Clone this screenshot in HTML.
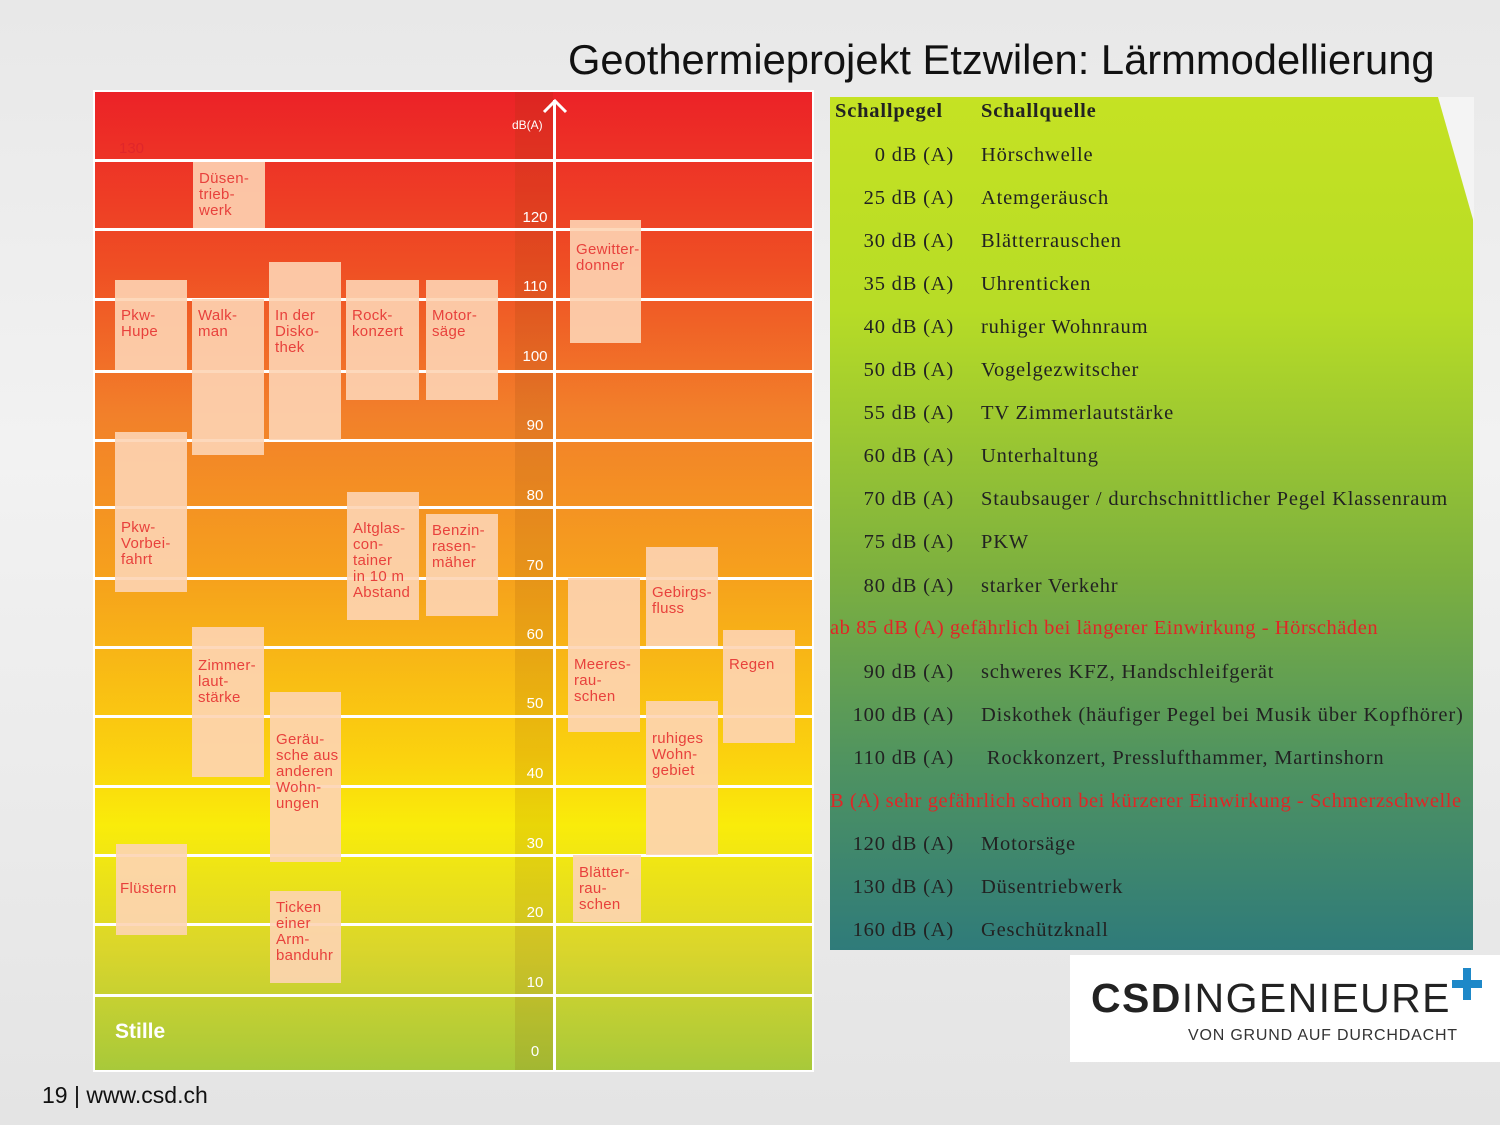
<!DOCTYPE html>
<html><head><meta charset="utf-8"><style>
body{margin:0;width:1500px;height:1125px;position:relative;overflow:hidden;background:linear-gradient(180deg,#e8e8e8 0%,#f2f2f2 40%,#e4e4e4 100%);font-family:"Liberation Sans",sans-serif}
.abs{position:absolute}
#chart{left:95px;top:92px;width:717px;height:978px;background:linear-gradient(180deg,#ec2227 0%,#ef4f24 18%,#f2802a 33%,#f6a21c 50%,#fbd20e 68%,#f9ec0a 75%,#d9d52c 88%,#a8c93a 100%);outline:2px solid #fff}
.hl{position:absolute;left:0;width:717px;height:3px;background:#fff}
#axis{left:420px;top:0;width:38px;height:978px;background:rgba(120,60,0,0.12)}
.tk{position:absolute;left:425px;width:30px;text-align:center;color:#fff;font-size:15px}
.bx{position:absolute;background:rgba(253,212,180,0.9);color:#e8413c;font-size:15px;line-height:16px;padding:9px 0 0 6px;box-sizing:border-box;letter-spacing:0.3px}
#tab{left:830px;top:97px;width:643px;height:853px;background:linear-gradient(180deg,#c5e223 0%,#b7dc26 25%,#7eb13e 55%,#4f9360 78%,#2f7b7a 100%);font-family:"Liberation Serif",serif;font-size:20.5px;letter-spacing:0.8px;color:#222}
.r{position:absolute;left:0;width:643px;height:24px}
.r .a{position:absolute;right:519px;white-space:nowrap}
.r .b{position:absolute;left:151px;white-space:nowrap}
.red{position:absolute;left:0;color:#e02626;white-space:nowrap;letter-spacing:0.55px}
</style></head><body>
<div class="abs" style="left:568px;top:36px;font-size:41.7px;color:#111">Geothermieprojekt Etzwilen: Lärmmodellierung</div>
<div id="chart" class="abs">
<div id="axis" class="abs"></div>
<div class="hl" style="top:67px"></div><div class="hl" style="top:136px"></div><div class="hl" style="top:206px"></div><div class="hl" style="top:278px"></div><div class="hl" style="top:347px"></div><div class="hl" style="top:414px"></div><div class="hl" style="top:485px"></div><div class="hl" style="top:554px"></div><div class="hl" style="top:623px"></div><div class="hl" style="top:693px"></div><div class="hl" style="top:762px"></div><div class="hl" style="top:831px"></div><div class="hl" style="top:902px"></div>
<div class="abs" style="left:458px;top:8px;width:3px;height:970px;background:#fff"></div>
<svg class="abs" style="left:446px;top:4px" width="28" height="20"><polyline points="3,16 14,5 25,16" fill="none" stroke="#fff" stroke-width="3"/></svg>
<div class="abs" style="left:417px;top:26px;color:#fff;font-size:12px">dB(A)</div>
<div class="abs" style="left:24px;top:48px;color:#e0262a;font-size:15px">130</div>
<div class="tk" style="top:117px">120</div><div class="tk" style="top:186px">110</div><div class="tk" style="top:256px">100</div><div class="tk" style="top:325px">90</div><div class="tk" style="top:395px">80</div><div class="tk" style="top:465px">70</div><div class="tk" style="top:534px">60</div><div class="tk" style="top:603px">50</div><div class="tk" style="top:673px">40</div><div class="tk" style="top:743px">30</div><div class="tk" style="top:812px">20</div><div class="tk" style="top:882px">10</div><div class="tk" style="top:951px">0</div>
<div class="abs" style="left:20px;top:928px;color:#fff;font-size:21px;font-weight:bold">Stille</div>
<div class="bx" style="left:98px;top:70px;width:72px;height:66px">Düsen-<br>trieb-<br>werk</div>
<div class="bx" style="left:20px;top:188px;width:72px;height:90px;padding-top:28px">Pkw-<br>Hupe</div>
<div class="bx" style="left:97px;top:207px;width:72px;height:156px">Walk-<br>man</div>
<div class="bx" style="left:174px;top:170px;width:72px;height:178px;padding-top:46px">In der<br>Disko-<br>thek</div>
<div class="bx" style="left:251px;top:188px;width:73px;height:120px;padding-top:28px">Rock-<br>konzert</div>
<div class="bx" style="left:331px;top:188px;width:72px;height:120px;padding-top:28px">Motor-<br>säge</div>
<div class="bx" style="left:475px;top:128px;width:71px;height:123px;padding-top:22px">Gewitter-<br>donner</div>
<div class="bx" style="left:20px;top:340px;width:72px;height:160px;padding-top:88px">Pkw-<br>Vorbei-<br>fahrt</div>
<div class="bx" style="left:252px;top:400px;width:72px;height:128px;padding-top:29px">Altglas-<br>con-<br>tainer<br>in 10 m<br>Abstand</div>
<div class="bx" style="left:331px;top:422px;width:72px;height:102px">Benzin-<br>rasen-<br>mäher</div>
<div class="bx" style="left:551px;top:455px;width:72px;height:99px;padding-top:38px">Gebirgs-<br>fluss</div>
<div class="bx" style="left:473px;top:486px;width:72px;height:154px;padding-top:79px">Meeres-<br>rau-<br>schen</div>
<div class="bx" style="left:628px;top:538px;width:72px;height:113px;padding-top:27px">Regen</div>
<div class="bx" style="left:97px;top:535px;width:72px;height:150px;padding-top:31px">Zimmer-<br>laut-<br>stärke</div>
<div class="bx" style="left:175px;top:600px;width:71px;height:170px;padding-top:40px">Geräu-<br>sche aus<br>anderen<br>Wohn-<br>ungen</div>
<div class="bx" style="left:551px;top:609px;width:72px;height:154px;padding-top:30px">ruhiges<br>Wohn-<br>gebiet</div>
<div class="bx" style="left:21px;top:752px;width:71px;height:91px;padding-top:37px;padding-left:4px">Flüstern</div>
<div class="bx" style="left:175px;top:799px;width:71px;height:92px">Ticken<br>einer<br>Arm-<br>banduhr</div>
<div class="bx" style="left:478px;top:763px;width:68px;height:67px;padding-top:10px">Blätter-<br>rau-<br>schen</div>
</div>
<div id="tab" class="abs">
<svg class="abs" style="left:608px;top:0" width="36" height="126"><polygon points="0,0 36,0 36,126" fill="#f4f4f4"/></svg>
<div class="r" style="top:3px;font-weight:bold"><span class="abs" style="left:5px">Schallpegel</span><span class="b">Schallquelle</span></div>
<div class="r" style="top:47px"><span class="a">0 dB (A)</span><span class="b">Hörschwelle</span></div>
<div class="r" style="top:90px"><span class="a">25 dB (A)</span><span class="b">Atemgeräusch</span></div>
<div class="r" style="top:133px"><span class="a">30 dB (A)</span><span class="b">Blätterrauschen</span></div>
<div class="r" style="top:176px"><span class="a">35 dB (A)</span><span class="b">Uhrenticken</span></div>
<div class="r" style="top:219px"><span class="a">40 dB (A)</span><span class="b">ruhiger Wohnraum</span></div>
<div class="r" style="top:262px"><span class="a">50 dB (A)</span><span class="b">Vogelgezwitscher</span></div>
<div class="r" style="top:305px"><span class="a">55 dB (A)</span><span class="b">TV Zimmerlautstärke</span></div>
<div class="r" style="top:348px"><span class="a">60 dB (A)</span><span class="b">Unterhaltung</span></div>
<div class="r" style="top:391px"><span class="a">70 dB (A)</span><span class="b">Staubsauger / durchschnittlicher Pegel Klassenraum</span></div>
<div class="r" style="top:434px"><span class="a">75 dB (A)</span><span class="b">PKW</span></div>
<div class="r" style="top:478px"><span class="a">80 dB (A)</span><span class="b">starker Verkehr</span></div>
<div class="red" style="top:520px">ab 85 dB (A) gefährlich bei längerer Einwirkung - Hörschäden</div>
<div class="r" style="top:564px"><span class="a">90 dB (A)</span><span class="b">schweres KFZ, Handschleifgerät</span></div>
<div class="r" style="top:607px"><span class="a">100 dB (A)</span><span class="b">Diskothek (häufiger Pegel bei Musik über Kopfhörer)</span></div>
<div class="r" style="top:650px"><span class="a">110 dB (A)</span><span class="b">&nbsp;Rockkonzert, Presslufthammer, Martinshorn</span></div>
<div class="red" style="top:693px;left:0">B (A) sehr gefährlich schon bei kürzerer Einwirkung - Schmerzschwelle</div>
<div class="r" style="top:736px"><span class="a">120 dB (A)</span><span class="b">Motorsäge</span></div>
<div class="r" style="top:779px"><span class="a">130 dB (A)</span><span class="b">Düsentriebwerk</span></div>
<div class="r" style="top:822px"><span class="a">160 dB (A)</span><span class="b">Geschützknall</span></div>
</div>
<div class="abs" style="left:1070px;top:955px;width:430px;height:107px;background:#fff"></div>
<div class="abs" style="left:1091px;top:975px;font-size:41px;color:#222;letter-spacing:1.4px"><b>CSD</b>INGENIEURE</div>
<div class="abs" style="left:1463px;top:968px;width:8px;height:32px;background:#1e88c8"></div>
<div class="abs" style="left:1452px;top:980px;width:30px;height:8px;background:#1e88c8"></div>
<div class="abs" style="left:1188px;top:1027px;font-size:16px;color:#333;letter-spacing:0.8px">VON GRUND AUF DURCHDACHT</div>
<div class="abs" style="left:42px;top:1082px;font-size:23px;color:#111">19 | www.csd.ch</div>
</body></html>
